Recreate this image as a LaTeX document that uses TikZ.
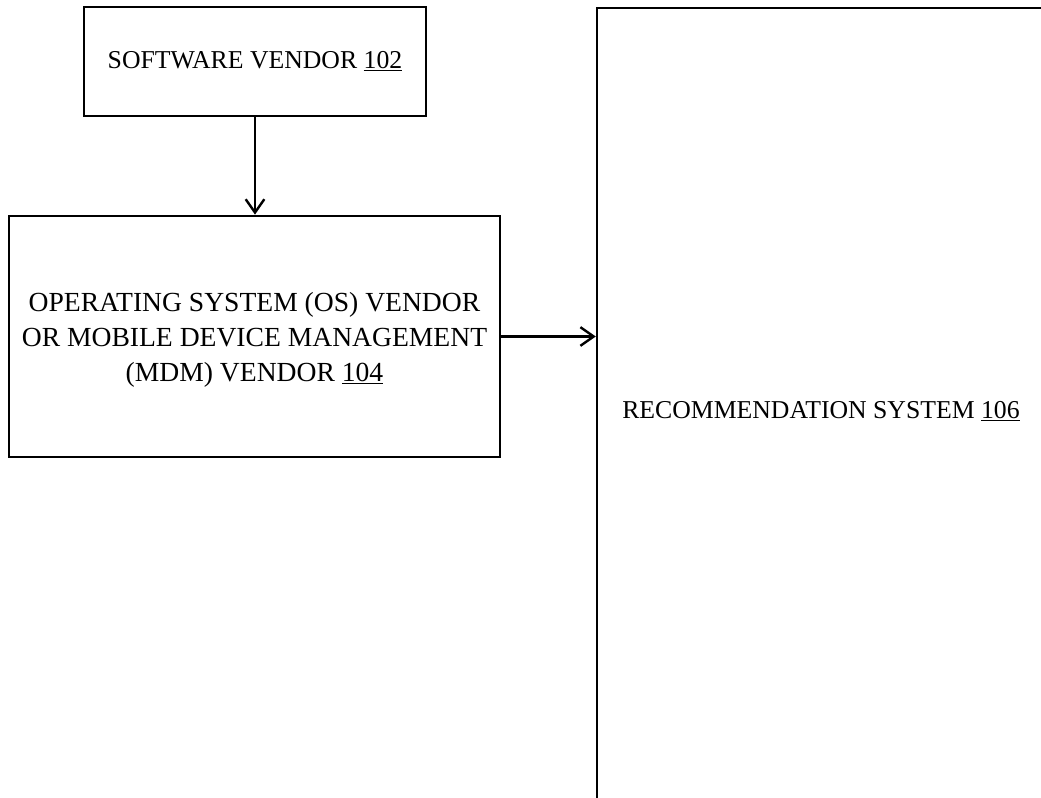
\documentclass[tikz,border=0pt]{standalone}
\usepackage{fontspec}
\setmainfont{Liberation Serif}
\usetikzlibrary{arrows.meta}
\tikzstyle{block} = [draw, line width=1.8pt, align=center, inner sep=0pt, font=\fontsize{19.3}{26}\selectfont]
\tikzstyle{link} = [line width=1.8pt, -{Straight Barb[length=10pt,width=14pt,line width=1.8pt]}]

\begin{document}
\begin{tikzpicture}[x=0.75pt, y=-0.75pt]
    \useasboundingbox (0,0) rectangle (1041,798);
    \clip (0,0) rectangle (1041,798);
    \draw (255,61.5) node[block, minimum width=256.5pt, minimum height=81.75pt] (sw) {SOFTWARE VENDOR \underline{102}};
    \draw (254.5,336.5) node[block, minimum width=368pt, minimum height=181pt, font=\fontsize{20.7}{26.3}\selectfont, text depth=-12pt] (os) {OPERATING SYSTEM (OS) VENDOR\\OR MOBILE DEVICE MANAGEMENT\\(MDM) VENDOR \underline{104}};
    \draw (821,411) node[block, minimum width=336pt, minimum height=604.5pt] (rec) {RECOMMENDATION SYSTEM \underline{106}};
    \draw [link] (sw.south) -- (sw.south |- os.north);
    \draw [link] (os.east) -- (rec.west |- os.east);
\end{tikzpicture}
\end{document}
